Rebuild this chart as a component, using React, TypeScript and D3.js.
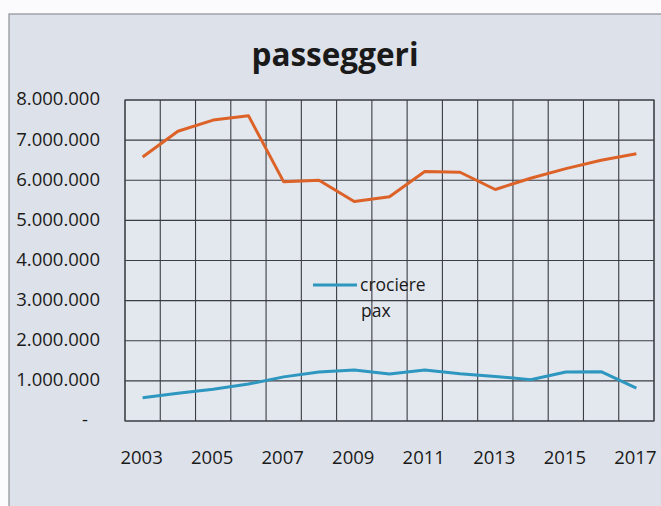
import React from "react";
import * as d3 from "d3";

const years = ["2003","2004","2005","2006","2007","2008","2009","2010","2011","2012","2013","2014","2015","2016","2017"];
const xTickLabels = ["2003","2005","2007","2009","2011","2013","2015","2017"];
const passeggeri = [6580000, 7220000, 7500000, 7610000, 5960000, 6000000, 5470000, 5590000, 6220000, 6200000, 5770000, 6050000, 6290000, 6500000, 6660000];
const crocierePax = [580000, 690000, 790000, 920000, 1100000, 1220000, 1270000, 1170000, 1270000, 1180000, 1110000, 1030000, 1220000, 1230000, 820000];
const yTicks = [0, 1000000, 2000000, 3000000, 4000000, 5000000, 6000000, 7000000, 8000000];

const W = 661, H = 506;
const plot = { left: 125, right: 654, top: 100, bottom: 421 };

const fmt = (v: number) => (v === 0 ? "-" : d3.format(",")(v).replace(/,/g, "."));

export default function App() {
  const x = d3.scaleBand<string>().domain(years).range([plot.left, plot.right]).padding(0);
  const y = d3.scaleLinear().domain([0, 8000000]).range([plot.bottom, plot.top]);
  const cx = (d: string) => (x(d) as number) + x.bandwidth() / 2;
  const line = d3.line<number>().x((_, i) => cx(years[i])).y((v) => y(v));
  const boundaries = years.map((d) => x(d) as number).concat([plot.right]);
  const font = "Open Sans, 'DejaVu Sans', sans-serif";
  return (
    <svg width={W} height={H} style={{ position: "absolute", left: 0, top: 0, background: "#fbfbfd" }}>
      <rect x={9} y={14} width={660} height={500} fill="#dde1e9" stroke="#8e9096" strokeWidth={1.2} />
      <text x={335} y={66} textAnchor="middle" fontFamily={font} fontWeight="bold" fontSize={31.5} fill="#1a1a1a">passeggeri</text>
      <rect x={plot.left} y={plot.top} width={plot.right - plot.left} height={plot.bottom - plot.top} fill="#e3e7ee" stroke="#55585e" strokeWidth={1.2} />
      {yTicks.map((t) => (
        <line key={"h" + t} x1={plot.left} x2={plot.right} y1={y(t)} y2={y(t)} stroke="#3a3d42" strokeWidth={1.1} />
      ))}
      {boundaries.map((b, i) => (
        <line key={"v" + i} x1={b} x2={b} y1={plot.top} y2={plot.bottom} stroke="#3a3d42" strokeWidth={1.1} />
      ))}
      {yTicks.map((t) => (
        <text key={"yl" + t} x={t === 0 ? 88 : 100} y={y(t) - 1} dy="0.35em" textAnchor="end" fontFamily={font} fontSize={18.5} fill="#1a1a1a">{fmt(t)}</text>
      ))}
      {xTickLabels.map((l) => (
        <text key={"xl" + l} x={cx(l) - 1} y={464} textAnchor="middle" fontFamily={font} fontSize={18.5} fill="#1a1a1a">{l}</text>
      ))}
      <path d={line(passeggeri) || ""} fill="none" stroke="#dc6228" strokeWidth={3} strokeLinejoin="round" />
      <path d={line(crocierePax) || ""} fill="none" stroke="#2d97c0" strokeWidth={3} strokeLinejoin="round" />
      <line x1={313} x2={357} y1={285} y2={285} stroke="#2d97c0" strokeWidth={3} />
      <text x={360} y={285} dy="0.35em" fontFamily={font} fontSize={17.5} fill="#1a1a1a">crociere</text>
      <text x={361} y={311} dy="0.35em" fontFamily={font} fontSize={17.5} fill="#1a1a1a">pax</text>
    </svg>
  );
}
